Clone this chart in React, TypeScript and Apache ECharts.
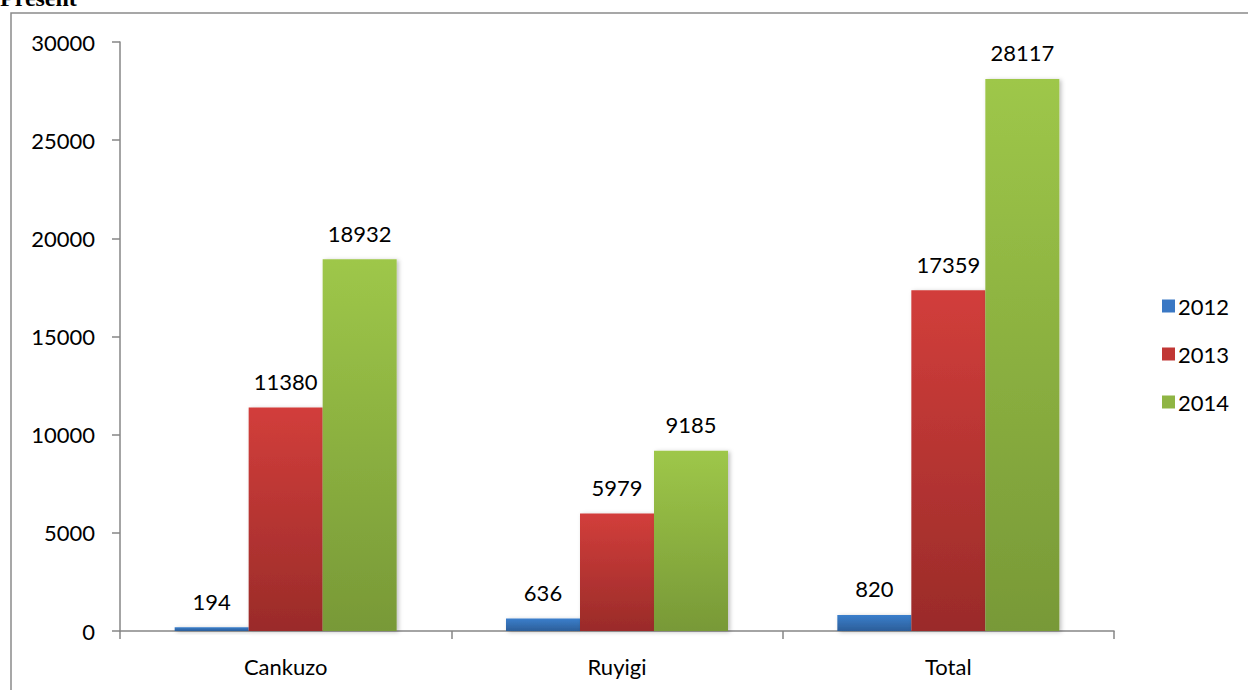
import React, { useEffect, useRef } from "react";
import * as echarts from "echarts";

const categories = ["Cankuzo", "Ruyigi", "Total"];
const seriesNames = ["2012", "2013", "2014"];
const values2012 = [194, 636, 820];
const values2013 = [11380, 5979, 17359];
const values2014 = [18932, 9185, 28117];
const yTicks = { min: 0, max: 30000, interval: 5000 };

const FONT = "Lato, 'Open Sans', sans-serif";

const grad = (top: string, bottom: string) =>
  new echarts.graphic.LinearGradient(0, 0, 0, 1, [
    { offset: 0, color: top },
    { offset: 1, color: bottom },
  ]);

export default function App() {
  const ref = useRef<HTMLDivElement>(null);
  useEffect(() => {
    if (!ref.current) return;
    const chart = echarts.init(ref.current, undefined, { renderer: "svg" });
    const colors = [
      grad("#3b7fcc", "#2c5e99"),
      grad("#d23e3b", "#9a2b29"),
      grad("#9ec749", "#789937"),
    ];
    const legendColors = ["#3a78c4", "#c13735", "#8fb544"];
    const data = [values2012, values2013, values2014];
    chart.setOption({
      animation: false,
      textStyle: { fontFamily: FONT },
      grid: { left: 120, right: 134, top: 42, bottom: 59 },
      legend: {
        orient: "vertical",
        left: 1157,
        top: 289,
        itemWidth: 13,
        itemHeight: 13,
        itemGap: 24,
        icon: "rect",
        textStyle: { fontSize: 22, color: "#000", fontFamily: FONT, lineHeight: 24, padding: [0, 0, 0, -2] },
        data: seriesNames.map((n, i) => ({ name: n, itemStyle: { color: legendColors[i] } })),
      },
      xAxis: {
        type: "category",
        data: categories,
        axisLine: { show: true, lineStyle: { color: "#868686", width: 1.5 } },
        axisTick: { show: true, length: 8, lineStyle: { color: "#868686", width: 1.5 } },
        axisLabel: { fontSize: 22, color: "#000", margin: 24, fontFamily: FONT },
      },
      yAxis: {
        type: "value",
        min: yTicks.min,
        max: yTicks.max,
        interval: yTicks.interval,
        axisLine: { show: true, lineStyle: { color: "#868686", width: 1.5 } },
        axisTick: { show: true, length: 8, lineStyle: { color: "#868686", width: 1.5 } },
        splitLine: { show: false },
        axisLabel: {
          fontSize: 22,
          color: "#000",
          margin: 25,
          fontFamily: FONT,
          formatter: (v: number) => String(v),
        },
      },
      graphic: [
        {
          type: "rect",
          shape: { x: 11, y: 13, width: 1400, height: 900 },
          style: { fill: "none", stroke: "#8a8a8a", lineWidth: 1.5 },
          silent: true,
        },
        {
          type: "text",
          x: 0,
          y: 10,
          style: {
            text: "Present",
            font: "bold 24px 'Liberation Serif', 'DejaVu Serif', serif",
            fill: "#000",
            verticalAlign: "bottom",
            align: "left",
          },
        },
      ],
      series: seriesNames.map((name, i) => ({
        name,
        type: "bar",
        data: data[i],
        barGap: "0%",
        barCategoryGap: "33%",
        itemStyle: {
          color: colors[i],
          shadowBlur: 4,
          shadowOffsetX: 2,
          shadowOffsetY: 1,
          shadowColor: "rgba(0,0,0,0.25)",
        },
        label: {
          show: true,
          position: "top",
          distance: 15,
          fontSize: 22,
          color: "#000",
          fontFamily: FONT,
        },
      })),
    });
    return () => chart.dispose();
  }, []);
  return (
    <div
      ref={ref}
      style={{ position: "fixed", left: 0, top: 0, width: 1248, height: 690, background: "#fff" }}
    />
  );
}
